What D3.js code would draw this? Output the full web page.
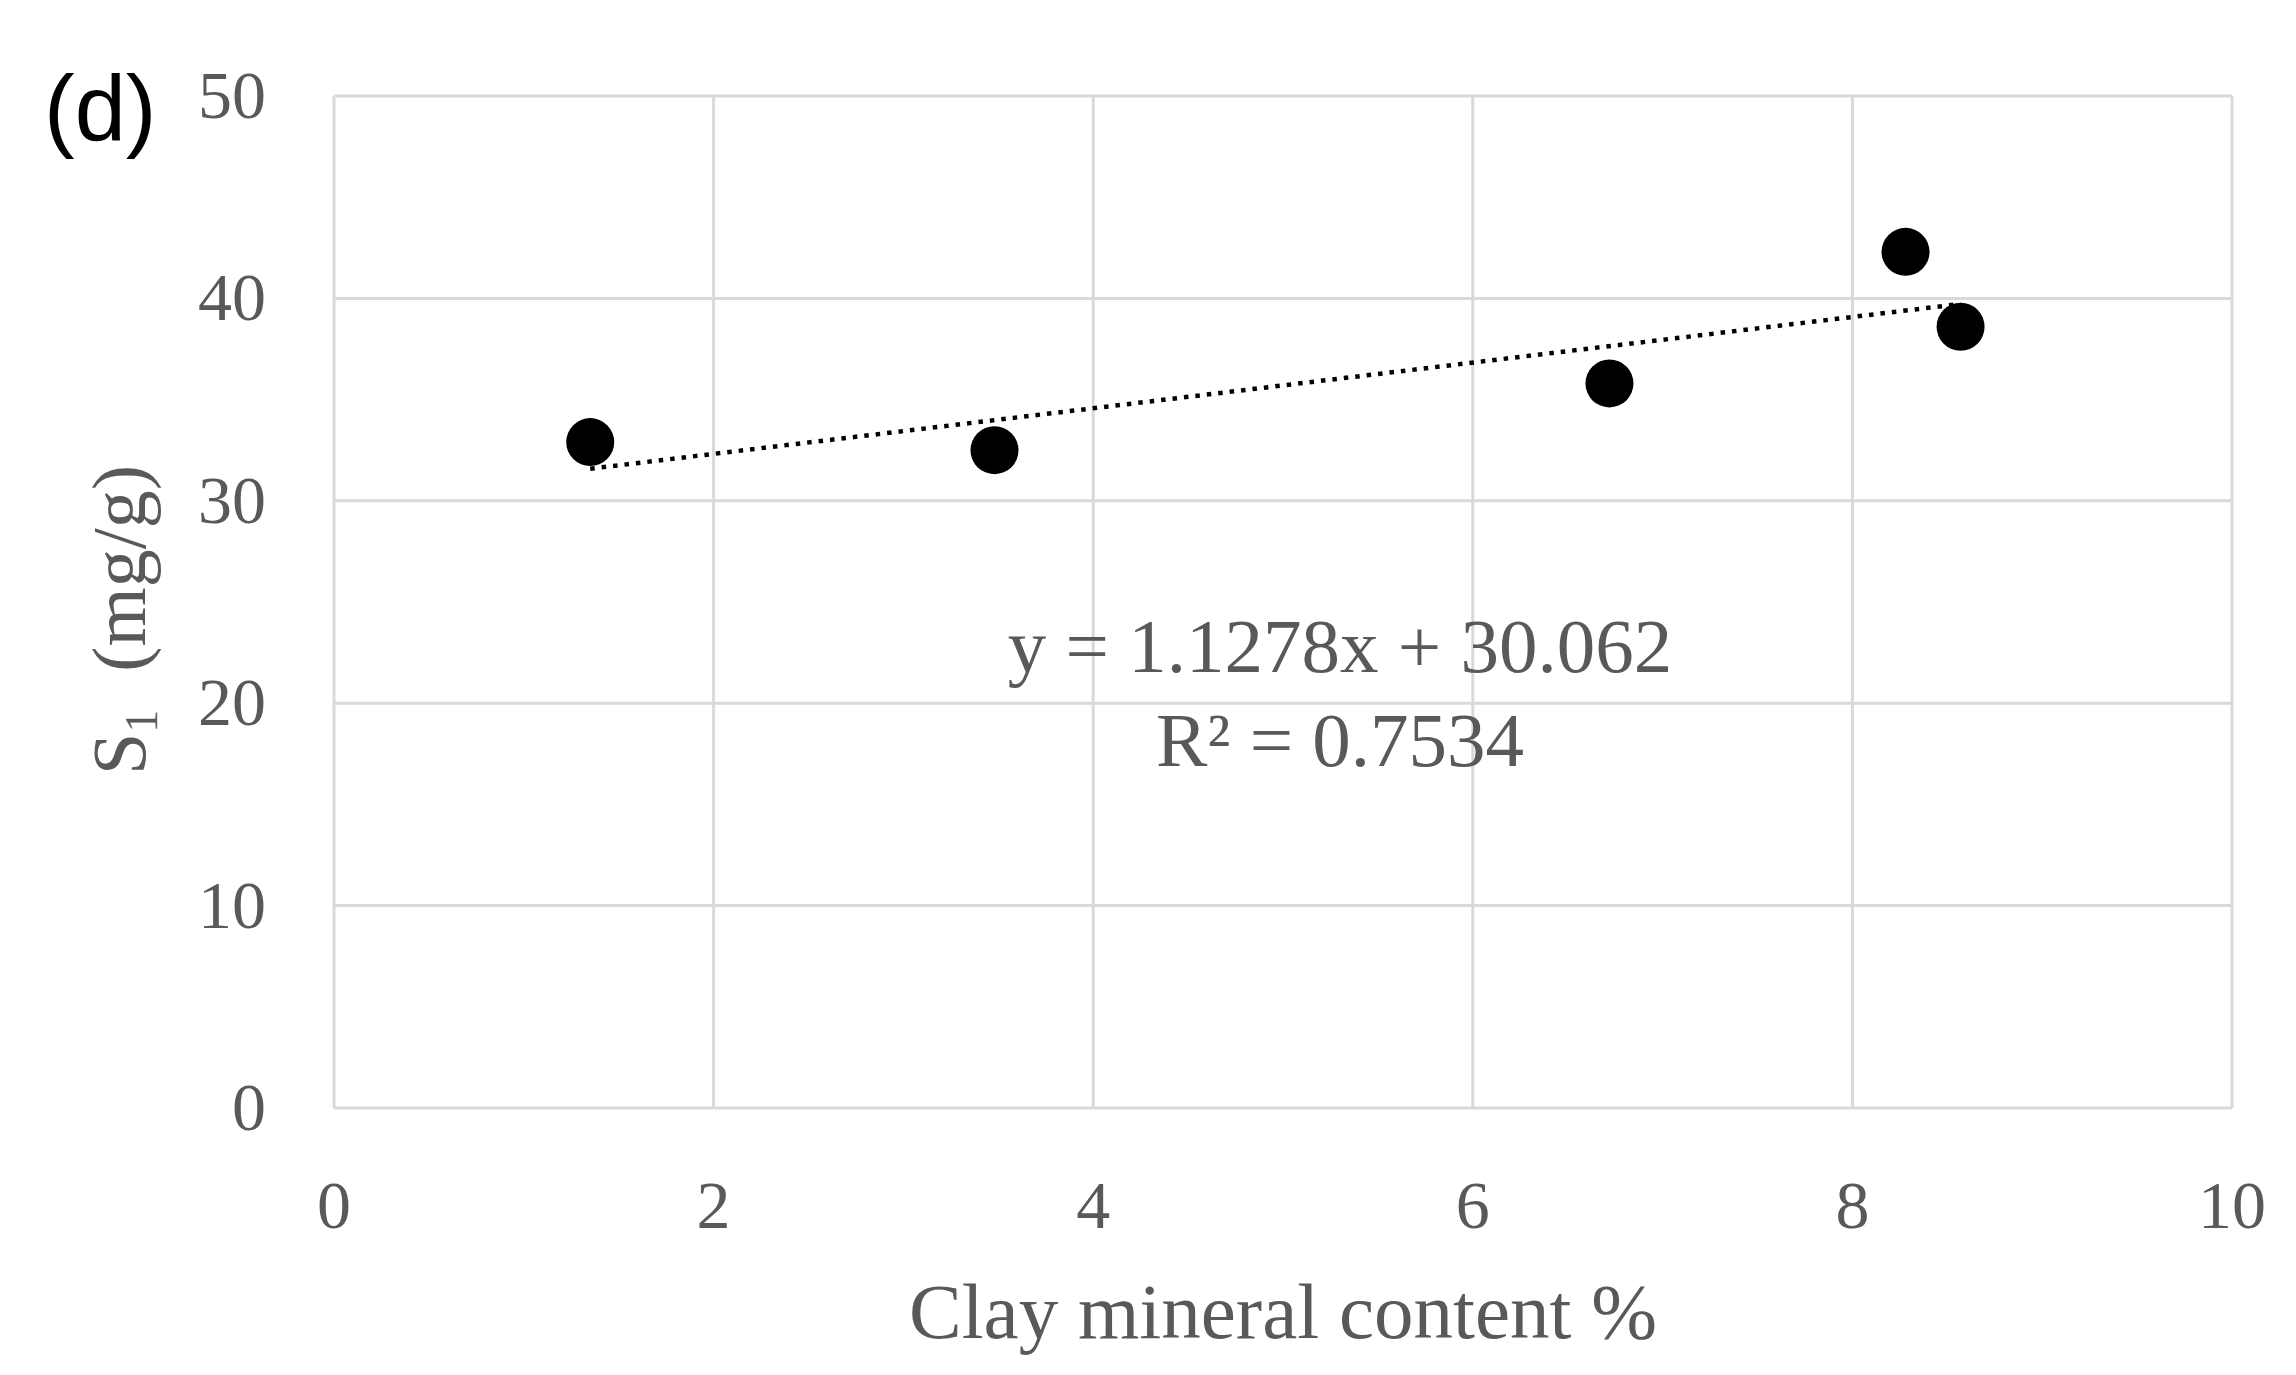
<!DOCTYPE html>
<html><head><meta charset="utf-8">
<script src="https://cdn.jsdelivr.net/npm/d3@7"></script>
<style>body{margin:0;background:#fff}</style>
</head><body>
<div id="chart"></div>
<script>
var clayX=[1.35,3.48,6.72,8.28,8.57];
var s1Y=[32.9,32.5,35.8,42.3,38.6];
var xTicks=[0,2,4,6,8,10];
var yTicks=[0,10,20,30,40,50];
var slope=1.1278, icept=30.062;

var W=2296,H=1375;
var svg=d3.select("#chart").append("svg").attr("width",W).attr("height",H);
var x=d3.scaleLinear().domain([0,10]).range([334,2232]);
var y=d3.scaleLinear().domain([0,50]).range([1108,96]);
var grey="#595959", font="Liberation Serif, Times New Roman, serif";

// grid
svg.selectAll(".gx").data(xTicks).enter().append("line")
	.attr("x1",d=>x(d)).attr("x2",d=>x(d)).attr("y1",y(0)).attr("y2",y(50))
	.attr("stroke","#d9d9d9").attr("stroke-width",3);
svg.selectAll(".gy").data(yTicks).enter().append("line")
	.attr("x1",x(0)).attr("x2",x(10)).attr("y1",d=>y(d)).attr("y2",d=>y(d))
	.attr("stroke","#d9d9d9").attr("stroke-width",3);

// tick labels
svg.selectAll(".tx").data(xTicks).enter().append("text")
	.attr("x",d=>x(d)).attr("y",1228).attr("text-anchor","middle")
	.attr("font-family",font).attr("font-size",68).attr("fill",grey).text(d=>d);
svg.selectAll(".ty").data(yTicks).enter().append("text")
	.attr("x",266).attr("y",d=>y(d)+22).attr("text-anchor","end")
	.attr("font-family",font).attr("font-size",68).attr("fill",grey).text(d=>d);

// trendline
var x0=d3.min(clayX), x1=d3.max(clayX);
svg.append("line").attr("x1",x(x0)).attr("y1",y(slope*x0+icept))
	.attr("x2",x(x1)).attr("y2",y(slope*x1+icept))
	.attr("stroke","#000").attr("stroke-width",4.5).attr("stroke-dasharray","4.5,7");

// points
svg.selectAll(".pt").data(clayX).enter().append("circle")
	.attr("cx",d=>x(d)).attr("cy",(d,i)=>y(s1Y[i])).attr("r",24).attr("fill","#000");

// equation
var eq=svg.append("text").attr("font-family",font).attr("font-size",77).attr("fill",grey).attr("text-anchor","middle");
eq.append("tspan").attr("x",1340).attr("y",672).text("y = 1.1278x + 30.062");
eq.append("tspan").attr("x",1340).attr("y",766).text("R² = 0.7534");

// axis titles
svg.append("text").attr("x",x(5)).attr("y",1338).attr("text-anchor","middle")
	.attr("font-family",font).attr("font-size",79).attr("fill",grey).text("Clay mineral content %");
var yt=svg.append("text").attr("transform","translate(145,620) rotate(-90)").attr("text-anchor","middle")
	.attr("font-family",font).attr("font-size",76).attr("fill",grey);
yt.append("tspan").text("S");
yt.append("tspan").attr("font-size",46).attr("dy",12).text("1");
yt.append("tspan").attr("dy",-12).text("\u2002(mg/g)");

svg.append("text").attr("x",44).attr("y",140).attr("font-family","Liberation Sans, Arial, sans-serif")
	.attr("font-size",92).attr("fill","#000").text("(d)");
</script>
</body></html>
